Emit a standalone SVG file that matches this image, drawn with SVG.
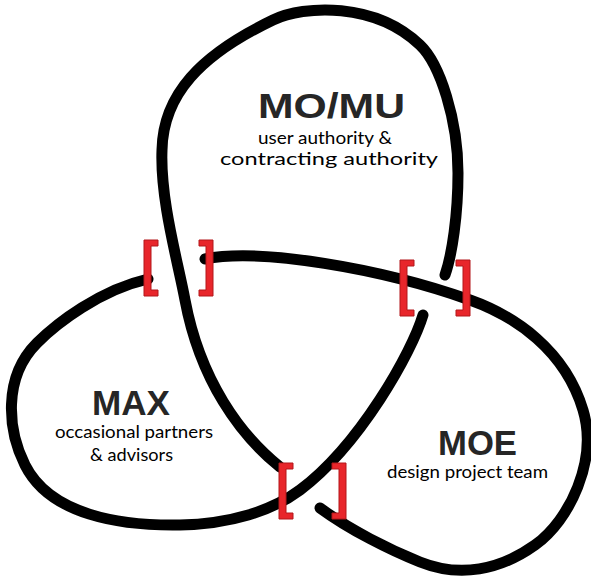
<svg xmlns="http://www.w3.org/2000/svg" width="591" height="578" viewBox="0 0 591 578">
<defs>
<style>
.strand{fill:none;stroke:#000;stroke-width:11;stroke-linecap:round;stroke-linejoin:round}
.br{fill:#e8262b;stroke:#b3161b;stroke-width:1}
.title{font-family:"Liberation Sans",Arial,sans-serif;font-weight:bold;font-size:35px;fill:#262626}
.sub{font-family:Lato,"Open Sans",sans-serif;font-size:17px;fill:#000}
</style>
<path id="bl" class="br" d="M0,0 h14 v6 h-7 v44 h7 v6 h-14 z"/>
<path id="brr" class="br" d="M0,0 h14 v56 h-14 v-6 h7 v-44 h-7 z"/>
</defs>
<rect width="591" height="578" fill="#fff"/>
<g id="connectors">
<path class="strand" d="M205,259 C260,248 380,268 470,300 C515,316 565,350 583,410 C598,460 570,520 535,545 C500,570 460,578 420,562 C390,550 350,530 320,508"/>
<path class="strand" d="M280,467 C240,435 200,380 185,300 C178,262 160,200 162,150 C163,95 200,55 273,20 C304,5 375,2 420,45 C440,64 458,120 458,173 C458,215 452,255 445,275"/>
<path class="strand" d="M423,315 C412,352 360,445 300,490 C272,511 230,524 180,525 C120,526 50,515 25,465 C8,431 2,378 37,343 C57,323 100,290 148,279"/>
</g>
<g id="crossings">
<use href="#bl" class="br" x="144" y="240"/>
<use href="#brr" class="br" x="199" y="240"/>
<use href="#bl" class="br" x="400" y="260"/>
<use href="#brr" class="br" x="456" y="260"/>
<use href="#bl" class="br" x="279" y="463"/>
<use href="#brr" class="br" x="332" y="463"/>
</g>
<g id="node-momu">
<text class="title" x="258" y="118" textLength="147" lengthAdjust="spacingAndGlyphs">MO/MU</text>
<text class="sub" x="258" y="144" textLength="134" lengthAdjust="spacingAndGlyphs">user authority &amp;</text>
<text class="sub" x="220" y="165" textLength="218" lengthAdjust="spacingAndGlyphs">contracting authority</text>
</g>
<g id="node-max">
<text class="title" x="92" y="415" textLength="78" lengthAdjust="spacingAndGlyphs">MAX</text>
<text class="sub" x="55" y="438" textLength="158" lengthAdjust="spacingAndGlyphs">occasional partners</text>
<text class="sub" x="90" y="461" textLength="83" lengthAdjust="spacingAndGlyphs">&amp; advisors</text>
</g>
<g id="node-moe">
<text class="title" x="438" y="455" textLength="79" lengthAdjust="spacingAndGlyphs">MOE</text>
<text class="sub" x="387" y="478" textLength="161" lengthAdjust="spacingAndGlyphs">design project team</text>
</g>
</svg>
